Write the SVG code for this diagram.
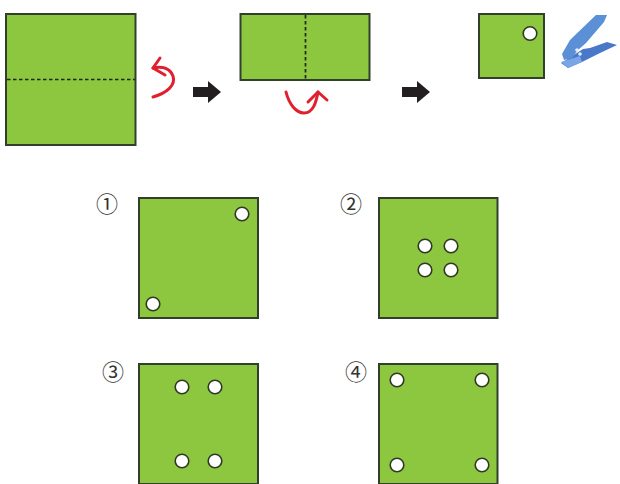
<svg xmlns="http://www.w3.org/2000/svg" width="620" height="484" viewBox="0 0 620 484">
<style>
.p{fill:#8dc63f;stroke:#30402a;stroke-width:2}
.h{fill:#fff;stroke:#2f3a25;stroke-width:1.6}
.d{fill:none;stroke:#1f2a14;stroke-width:1.700;stroke-dasharray:3.500 2.500}
.r{fill:none;stroke:#e0202f;stroke-width:3;stroke-linecap:round;stroke-linejoin:round}
.a{fill:#231f20}
.n{font-family:"Noto Sans CJK JP","DejaVu Sans",sans-serif;font-size:22px;fill:#333;text-anchor:middle}
</style>
<rect width="620" height="484" fill="#fff"/>
<g id="sheet-full"><rect class="p" x="6" y="14" width="129.500" height="131"/><path class="d" d="M7 79.500H135"/></g>
<g id="sheet-half"><rect class="p" x="240.500" y="14" width="129" height="66"/><path class="d" d="M305.500 15V80"/></g>
<g id="sheet-quarter"><rect class="p" x="479" y="14" width="65" height="64"/><circle class="h" cx="530" cy="33.500" r="6.800"/></g>
<g id="punch">
<path d="M566 60L583 49L590 48L607 42L617 45L600 53L582 62L568 68L561 63Z" fill="#4a78c8"/>
<path d="M561 62L580 56L582 62L568 68Z" fill="#7aa5e6"/>
<path d="M562 54L570 40L596 15L607 15L604 22L586 43L578 50L572 58L564 60Z" fill="#5b8fd6"/>
<circle cx="577" cy="50" r="1.800" fill="#e6eefa"/><circle cx="580" cy="54" r="1.800" fill="#e6eefa"/>
</g>
<g id="connectors">
<g id="fold-1"><path class="r" d="M153 68C162 66 170 68 173 76C176 85 167 93 153 97"/><path class="r" d="M153 68L160 58M153 68L165 75"/></g>
<g id="fold-2"><path class="r" d="M286 92C289 104 296 113 304 113C313 113 316 103 318 92"/><path class="r" d="M318 92L308 102M318 92L327 100"/></g>
<path id="arrow-1" class="a" d="M193 87H208V81L221 92L208 103V97H193Z"/>
<path id="arrow-2" class="a" d="M402 87H417V81L430 92L417 103V97H402Z"/>
</g>
<g id="option-1"><text class="n" x="107" y="212">①</text><rect class="p" x="139" y="198" width="119" height="120"/><circle class="h" cx="242" cy="214" r="6.800"/><circle class="h" cx="153" cy="304" r="6.800"/></g>
<g id="option-2"><text class="n" x="351" y="212">②</text><rect class="p" x="379" y="198" width="118.500" height="120"/><circle class="h" cx="425" cy="246" r="6.800"/><circle class="h" cx="451" cy="246" r="6.800"/><circle class="h" cx="425" cy="270" r="6.800"/><circle class="h" cx="451" cy="270" r="6.800"/></g>
<g id="option-3"><text class="n" x="113" y="380">③</text><rect class="p" x="139" y="364" width="119" height="120"/><circle class="h" cx="182" cy="387" r="6.800"/><circle class="h" cx="215" cy="387" r="6.800"/><circle class="h" cx="182" cy="461" r="6.800"/><circle class="h" cx="215" cy="461" r="6.800"/></g>
<g id="option-4"><text class="n" x="356" y="380">④</text><rect class="p" x="379" y="364" width="118.500" height="120"/><circle class="h" cx="397" cy="380" r="6.800"/><circle class="h" cx="482" cy="380" r="6.800"/><circle class="h" cx="397" cy="465" r="6.800"/><circle class="h" cx="482" cy="465" r="6.800"/></g>
</svg>
